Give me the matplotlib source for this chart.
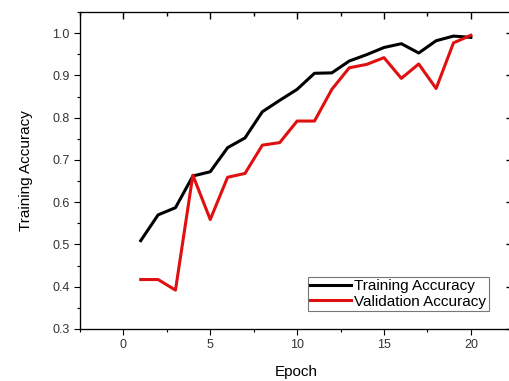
import numpy as np
import matplotlib
matplotlib.use("Agg")
import matplotlib.pyplot as plt
from matplotlib.ticker import MultipleLocator

plt.rcParams['font.family'] = ['Liberation Sans', 'DejaVu Sans']

#%% data
epochs = np.arange(1, 21)
train_acc = [0.509, 0.570, 0.587, 0.662, 0.672, 0.729, 0.752, 0.814, 0.841, 0.867,
             0.905, 0.906, 0.934, 0.949, 0.966, 0.975, 0.953, 0.982, 0.993, 0.990]
val_acc = [0.417, 0.417, 0.392, 0.664, 0.559, 0.659, 0.668, 0.735, 0.741, 0.792,
           0.792, 0.867, 0.918, 0.926, 0.942, 0.893, 0.927, 0.869, 0.977, 0.995]

#%% plot
fig = plt.figure(figsize=(5.09, 3.81), dpi=100)
ax = fig.add_axes([0.157, 0.1365, 0.85, 0.832])

ax.plot(epochs, train_acc, color='black', lw=2.2, label='Training Accuracy')
ax.plot(epochs, val_acc, color='#e01010', lw=2.2, label='Validation Accuracy')

ax.set_xlim(-2.5, 22.4)
ax.set_ylim(0.3, 1.05)
ax.xaxis.set_major_locator(MultipleLocator(5))
ax.xaxis.set_minor_locator(MultipleLocator(2.5))
ax.yaxis.set_major_locator(MultipleLocator(0.1))
ax.yaxis.set_minor_locator(MultipleLocator(0.05))
ax.yaxis.set_major_formatter(plt.FormatStrFormatter('%.1f'))

ax.tick_params(which='both', direction='out', labelsize=9, labelcolor='#333333', width=0.8)
ax.tick_params(which='major', length=4)
ax.tick_params(which='minor', length=2.5)

#____mirrored ticks on top and right, pointing inward
ax_top = ax.twiny()
ax_top.set_xlim(ax.get_xlim())
ax_top.xaxis.set_major_locator(MultipleLocator(5))
ax_top.xaxis.set_minor_locator(MultipleLocator(2.5))
ax_top.tick_params(which='both', direction='in', top=True, bottom=False,
                   labeltop=False, labelbottom=False, width=1.0, color='black')
ax_top.tick_params(which='major', length=5)
ax_top.tick_params(which='minor', length=3)
ax_right = ax.twinx()
ax_right.set_ylim(ax.get_ylim())
ax_right.yaxis.set_major_locator(MultipleLocator(0.1))
ax_right.yaxis.set_minor_locator(MultipleLocator(0.05))
ax_right.tick_params(which='both', direction='in', right=True, left=False,
                     labelright=False, labelleft=False, width=1.0)
ax_right.tick_params(which='major', length=5)
ax_right.tick_params(which='minor', length=3)

for a in (ax, ax_top, ax_right):
    for sp in a.spines.values():
        sp.set_linewidth(0.8)

ax.set_xlabel('Epoch', fontsize=11, labelpad=10)
ax.set_ylabel('Training Accuracy', fontsize=11, labelpad=14)

leg = ax_right.legend(*ax.get_legend_handles_labels(),
                      loc='lower right', bbox_to_anchor=(0.945, 0.057), fontsize=11,
                      frameon=True, fancybox=False, edgecolor='#555555',
                      handlelength=2.7, handletextpad=0.2, borderpad=0.15,
                      labelspacing=0.1, borderaxespad=0)
leg.get_frame().set_linewidth(0.8)

fig.savefig('out.png', dpi=100)
